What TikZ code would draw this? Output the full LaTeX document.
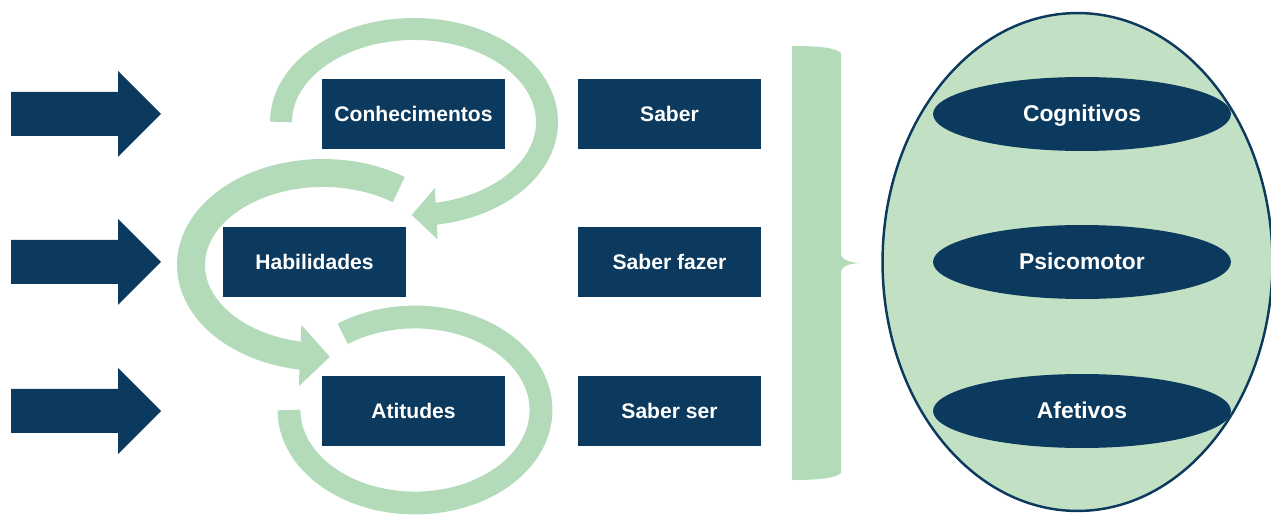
\documentclass[tikz,border=0pt]{standalone}
\usepackage{fontspec}
\setmainfont{Liberation Sans}
\usepackage{tikz}
\usetikzlibrary{arrows.meta,bending,shapes.geometric}
\definecolor{navy}{RGB}{12,58,94}
\definecolor{band}{RGB}{179,219,186}
\definecolor{pale}{RGB}{194,225,196}
\tikzset{
  cellbox/.style={fill=navy, text=white, font=\fontsize{12}{14}\selectfont\bfseries,
    minimum width=3.66cm, minimum height=1.4cm, inner sep=0pt},
  trait/.style={ellipse, fill=navy, text=white, font=\fontsize{13}{15}\selectfont\bfseries,
    text height=0.9em, text depth=0pt,
    minimum width=5.96cm, minimum height=1.48cm, inner sep=0pt},
  loopband/.style={draw=band, line cap=butt}
}
\begin{document}
\begin{tikzpicture}[x=0.02cm, y=0.02cm]
		\useasboundingbox (0,0) rectangle (1271,514);
		% input arrows
		\fill[navy] (11,422) -- ++(107,0) -- ++(0,21) -- ++(43,-43) -- ++(-43,-43) -- ++(0,21) -- ++(-107,0) -- cycle;
		\fill[navy] (11,274) -- ++(107,0) -- ++(0,21) -- ++(43,-43) -- ++(-43,-43) -- ++(0,21) -- ++(-107,0) -- cycle;
		\fill[navy] (11,125) -- ++(107,0) -- ++(0,21) -- ++(43,-43) -- ++(-43,-43) -- ++(0,21) -- ++(-107,0) -- cycle;
		% cycle bands
		\draw[loopband, line width=12.5pt, -{Triangle[length=14pt,width=28.4pt]}]
			(281,392) arc[start angle=180, end angle=-91, x radius=133, y radius=93];
		\draw[loopband, line width=15.9pt, -{Triangle[length=17pt,width=34pt]}]
			(323,249) ++(55:132 and 92) arc[start angle=55, end angle=273, x radius=132, y radius=92];
		\draw[loopband, line width=13pt]
			(289,104) arc[start angle=180, end angle=485, x radius=126, y radius=93];
		% boxes
		\node[cellbox] (conh) at (413.5,400) {Conhecimentos};
		\node[cellbox] (habil) at (314.5,252) {Habilidades};
		\node[cellbox] (atit) at (413.5,103) {Atitudes};
		\node[cellbox] (saber) at (669.5,400) {Saber};
		\node[cellbox] (fazer) at (669.5,252) {Saber fazer};
		\node[cellbox] (ser) at (669.5,103) {Saber ser};
		% brace
		\fill[band] (792,468) .. controls (820,468) and (836,466) .. (841,461) -- (841,261)
			.. controls (841,254) and (850,251) .. (862,251)
			.. controls (850,251) and (841,248) .. (841,241) -- (841,41)
			.. controls (836,36) and (820,34) .. (792,34) -- cycle;
		% domains
		\node[ellipse, draw=navy, fill=pale, line width=1.4pt, minimum width=7.8cm, minimum height=9.96cm] (dom) at (1077.5,252) {};
		\node[trait] (cogn) at (1082,400) {Cognitivos};
		\node[trait] (psico) at (1082,252) {Psicomotor};
		\node[trait] (afet) at (1082,103) {Afetivos};
	\end{tikzpicture}
\end{document}
